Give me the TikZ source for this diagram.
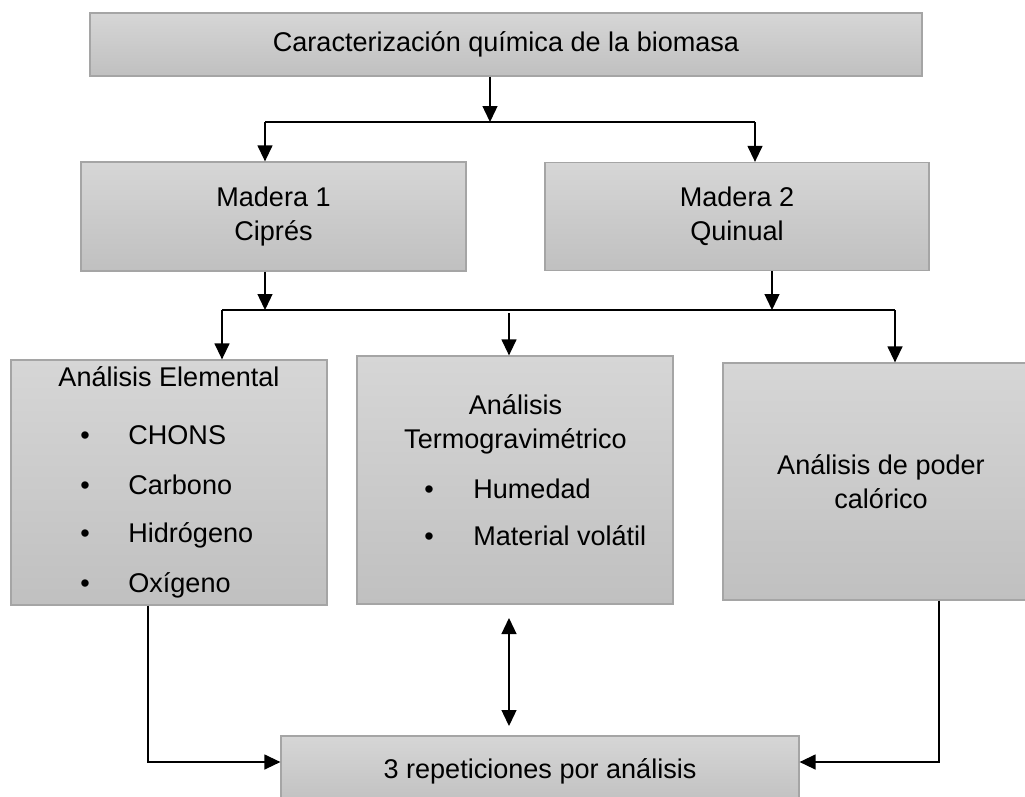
\documentclass[tikz,border=0pt]{standalone}
\usepackage{fontspec}
\setmainfont{Liberation Sans}
\usetikzlibrary{arrows.meta,positioning}
\definecolor{boxtop}{RGB}{214,214,214}
\definecolor{boxbot}{RGB}{192,192,192}
\definecolor{boxline}{RGB}{165,165,165}
\tikzset{
    box/.style =    {rectangle,
                    top color=boxtop,
                    bottom color=boxbot,
                    draw=boxline,
                    text=black,
                    line width=0.75pt,
                    inner sep=0pt,
                    align=center,
                    font=\fontsize{15.4}{19.3}\selectfont},
    txt/.style =    {inner sep=0pt,
                    text=black,
                    align=center,
                    font=\fontsize{15.4}{19.3}\selectfont},
    item/.style =   {txt,
                    anchor=west,
                    text height=0.8em,
                    text depth=0.084em},
    bul/.style =    {txt,
                    text height=0.8em,
                    text depth=0.084em},
    arr/.style =    {line width=0.75pt,
                    -{Triangle[length=0.32cm,width=0.3cm]}},
    ln/.style =     {line width=0.75pt},
    both/.style =   {line width=0.75pt,
                    {Triangle[length=0.32cm,width=0.3cm]}-{Triangle[length=0.32cm,width=0.3cm]}}
}
\begin{document}
\begin{tikzpicture}[x=0.02cm,y=-0.02cm]
    \clip (0,0) rectangle (1025,796);
    % boxes
    \node[box, minimum width=16.64cm, minimum height=1.26cm] (carac) at (506,44.5) {Caracterización química de la biomasa};
    \node[box, minimum width=7.7cm,  minimum height=2.18cm] (mad1)  at (273.5,216.5) {Madera 1\\Ciprés};
    \node[box, minimum width=7.68cm, minimum height=2.16cm] (mad2)  at (737,216.5) {Madera 2\\Quinual};
    \node[box, minimum width=6.32cm, minimum height=4.9cm]  (elem)  at (169,482.5) {};
    \node[box, minimum width=6.32cm, minimum height=4.96cm] (termo) at (515,480) {};
    \node[box, minimum width=6.32cm, minimum height=4.74cm] (calor) at (881,481.5) {Análisis de poder\\calórico};
    \node[box, minimum width=10.36cm, minimum height=1.4cm] (rep)   at (540,771) {3 repeticiones por análisis};
    % contents of the two list boxes
    \node[bul]  (elemt) at (169,380) {Análisis Elemental};
    \node[item] (chons) at (128,438) {CHONS};
    \node[item] (carb)  at (128,488) {Carbono};
    \node[item] (hidr)  at (128,536) {Hidrógeno};
    \begin{scope}
        \clip (11,360) rectangle (327,597);
        \node[item] (oxig) at (128,586) {Oxígeno};
    \end{scope}
    \foreach \n in {chons,carb,hidr,oxig}
        \node[bul] (b\n) at (85,0 |- \n) {\textbullet};
    \node[txt]  (termot) at (515.5,424) {Análisis\\Termogravimétrico};
    \node[item] (hum)  at (473,492) {Humedad};
    \node[item] (vol)  at (473,539) {Material volátil};
    \foreach \n in {hum,vol}
        \node[bul] (b\n) at (429,0 |- \n) {\textbullet};
    % junction points
    \coordinate (j1) at (490,122);
    \coordinate (a1) at (265,122);
    \coordinate (a2) at (755,122);
    \coordinate (b1) at (265,310);
    \coordinate (b2) at (772,310);
    \coordinate (c1) at (222,310);
    \coordinate (c2) at (509,313);
    \coordinate (c4) at (895,310);
    \coordinate (d1) at (148,762);
    \coordinate (d2) at (939,762);
    \coordinate (e1) at (509,618);
    \coordinate (e2) at (509,726);
    % connectors
    \draw[arr] (carac.south -| j1) -- (j1);
    \draw[ln]  (a1) -- (a2);
    \draw[arr] (a1) -- (a1 |- mad1.north);
    \draw[arr] (a2) -- (a2 |- mad2.north);
    \draw[arr] (mad1.south -| b1) -- (b1);
    \draw[arr] (mad2.south -| b2) -- (b2);
    \draw[ln]  (c1) -- (c4);
    \draw[arr] (c1) -- (c1 |- elem.north);
    \draw[arr] (c2) -- (c2 |- termo.north);
    \draw[arr] (c4) -- (c4 |- calor.north);
    \draw[arr] (elem.south -| d1) -- (d1) -- (d1 -| rep.west);
    \draw[arr] (calor.south -| d2) -- (d2) -- (d2 -| rep.east);
    \draw[both] (e1) -- (e2);
\end{tikzpicture}
\end{document}
